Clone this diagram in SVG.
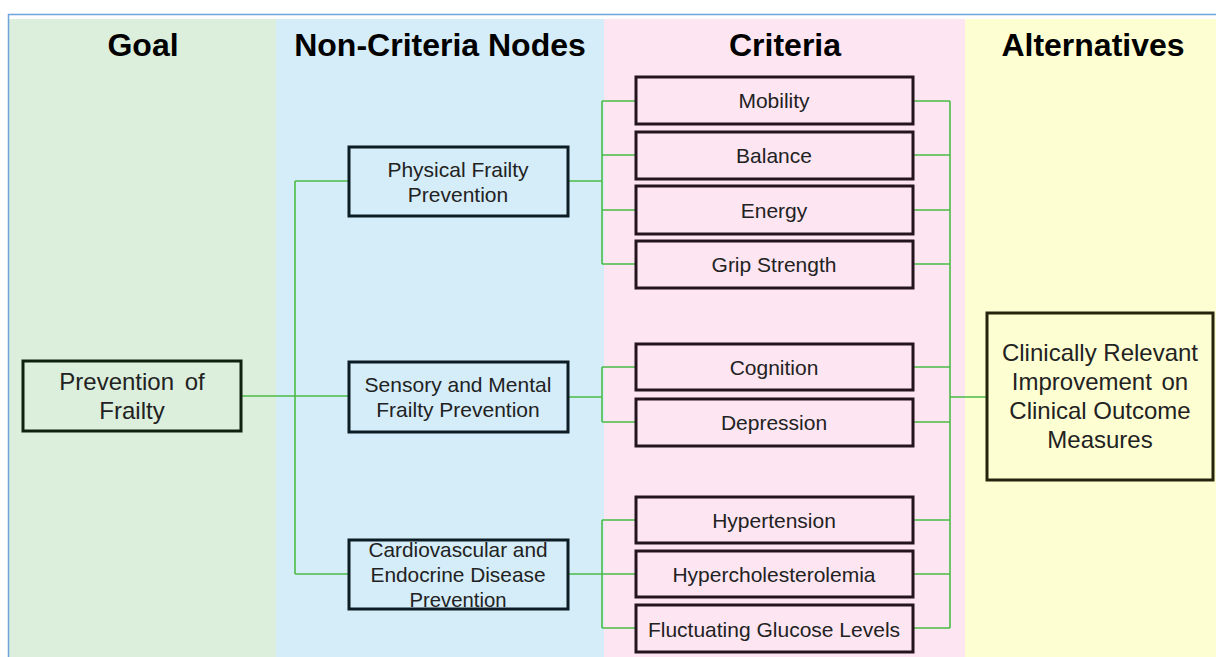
<svg xmlns="http://www.w3.org/2000/svg" width="1216" height="657" viewBox="0 0 1216 657">
  <style>
    .hdr { font-family: "Liberation Sans", Arial, sans-serif; font-size: 32px; font-weight: bold; fill: #000; text-anchor: middle; }
    .lbl { font-family: "Liberation Sans", Arial, sans-serif; font-size: 21px; fill: #222; text-anchor: middle; }
    .big { font-size: 24px; }
    .box { stroke-width: 3; }
    .goal { fill: #dcefdc; stroke: #102010; }
    .node { fill: #d5edf8; stroke: #0c1c24; }
    .crit { fill: #fde6f2; stroke: #24141e; }
    .alt { fill: #fefed3; stroke: #24240c; }
    .wire { fill: none; stroke: #4cbb47; stroke-width: 1.6; }
  </style>
  <rect width="1216" height="657" fill="#ffffff"/>
  <!-- column bands -->
  <rect x="9" y="19" width="267" height="638" fill="#dcefdc"/>
  <rect x="276" y="19" width="328" height="638" fill="#d5edf8"/>
  <rect x="604" y="19" width="361" height="638" fill="#fde6f2"/>
  <rect x="965" y="19" width="251" height="638" fill="#fefed3"/>
  <path d="M8.5 657 V14.5 H1216" fill="none" stroke="#6fa3dc" stroke-width="1.5"/>
  <text class="hdr" x="143" y="56">Goal</text>
  <text class="hdr" x="440" y="56">Non-Criteria Nodes</text>
  <text class="hdr" x="785" y="56">Criteria</text>
  <text class="hdr" x="1093" y="56">Alternatives</text>

  <g id="connectors">
    <path class="wire" d="M241 396 H349 M295 181 V574 M295 181 H349 M295 574 H349"/>
    <path class="wire" d="M568 181 H602 M602 101 V264 M602 101 H636 M602 155 H636 M602 210 H636 M602 264 H636"/>
    <path class="wire" d="M568 397 H602 M602 367 V422 M602 367 H636 M602 422 H636"/>
    <path class="wire" d="M568 574 H636 M602 520 V628 M602 520 H636 M602 628 H636"/>
    <path class="wire" d="M913 101 H950 M913 155 H950 M913 210 H950 M913 264 H950 M913 367 H950 M913 422 H950 M913 520 H950 M913 574 H950 M913 628 H950 M950 101 V628 M950 397 H987"/>
  </g>

  <g id="goal">
    <rect class="box goal" x="23" y="361" width="218" height="70"/>
    <text class="lbl big" x="132" y="390" word-spacing="4">Prevention of</text>
    <text class="lbl big" x="132" y="419">Frailty</text>
  </g>

  <g id="physical">
    <rect class="box node" x="349" y="147" width="219" height="69"/>
    <text class="lbl" x="458" y="177">Physical Frailty</text>
    <text class="lbl" x="458" y="202">Prevention</text>
  </g>
  <g id="sensory">
    <rect class="box node" x="349" y="362" width="219" height="70"/>
    <text class="lbl" x="458" y="392">Sensory and Mental</text>
    <text class="lbl" x="458" y="417">Frailty Prevention</text>
  </g>
  <g id="cardio">
    <rect class="box node" x="349" y="540" width="219" height="69"/>
    <text class="lbl" x="458" y="557" textLength="179" lengthAdjust="spacingAndGlyphs">Cardiovascular and</text>
    <text class="lbl" x="458" y="582" textLength="175" lengthAdjust="spacingAndGlyphs">Endocrine Disease</text>
    <text class="lbl" x="458" y="607" textLength="97" lengthAdjust="spacingAndGlyphs">Prevention</text>
  </g>

  <g id="mobility">
    <rect class="box crit" x="636" y="77" width="277" height="47"/>
    <text class="lbl" x="774" y="108">Mobility</text>
  </g>
  <g id="balance">
    <rect class="box crit" x="636" y="132" width="277" height="47"/>
    <text class="lbl" x="774" y="163">Balance</text>
  </g>
  <g id="energy">
    <rect class="box crit" x="636" y="186" width="277" height="48"/>
    <text class="lbl" x="774" y="218">Energy</text>
  </g>
  <g id="grip">
    <rect class="box crit" x="636" y="241" width="277" height="47"/>
    <text class="lbl" x="774" y="272">Grip Strength</text>
  </g>
  <g id="cognition">
    <rect class="box crit" x="636" y="344" width="277" height="46"/>
    <text class="lbl" x="774" y="375">Cognition</text>
  </g>
  <g id="depression">
    <rect class="box crit" x="636" y="399" width="277" height="47"/>
    <text class="lbl" x="774" y="430">Depression</text>
  </g>
  <g id="hypertension">
    <rect class="box crit" x="636" y="497" width="277" height="46"/>
    <text class="lbl" x="774" y="528">Hypertension</text>
  </g>
  <g id="hyperchol">
    <rect class="box crit" x="636" y="551" width="277" height="46"/>
    <text class="lbl" x="774" y="582">Hypercholesterolemia</text>
  </g>
  <g id="glucose">
    <rect class="box crit" x="636" y="605" width="277" height="47"/>
    <text class="lbl" x="774" y="637">Fluctuating Glucose Levels</text>
  </g>

  <g id="alternative">
    <rect class="box alt" x="987" y="313" width="226" height="167"/>
    <text class="lbl big" x="1100" y="361">Clinically Relevant</text>
    <text class="lbl big" x="1100" y="390" word-spacing="3">Improvement on</text>
    <text class="lbl big" x="1100" y="419">Clinical Outcome</text>
    <text class="lbl big" x="1100" y="448">Measures</text>
  </g>
</svg>
